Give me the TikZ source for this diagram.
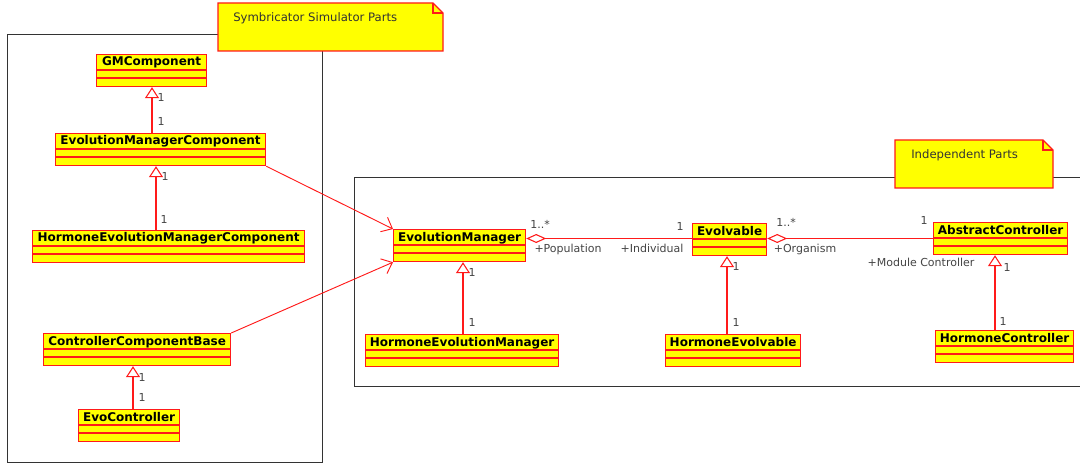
\documentclass[tikz,border=0pt]{standalone}
\usepackage{fontspec}
\setmainfont{DejaVu Sans}
\usetikzlibrary{arrows.meta,calc}
\definecolor{umlyellow}{HTML}{FFFF00}
\definecolor{umlred}{HTML}{FF1A1A}
\definecolor{lblgray}{HTML}{444444}
\definecolor{framegray}{HTML}{333333}
\tikzset{
  clsbox/.style={draw=umlred, fill=umlyellow, line width=0.9pt, inner sep=0pt, minimum height=24pt, anchor=north west},
  clsname/.style={font=\fontsize{9}{10}\selectfont\bfseries, inner sep=0pt, text=black, anchor=base},
  lbl/.style={font=\fontsize{8.25}{9}\selectfont, text=lblgray, inner sep=0pt},
  gen/.style={draw=umlred, line width=1pt, -{Triangle[open, length=8.25pt, width=10.5pt, line width=0.8pt]}},
  dep/.style={draw=umlred, line width=0.7pt, -{Straight Barb[length=7pt, width=12pt]}},
  assoc/.style={draw=umlred, line width=0.9pt, {Diamond[open, length=15pt, width=6.75pt, line width=0.8pt]}-},
  frame/.style={draw=framegray, line width=0.75pt},
  note/.style={draw=umlred, fill=umlyellow, line width=0.9pt},
  notetext/.style={font=\fontsize{8.75}{10}\selectfont, text=framegray, inner sep=0pt, anchor=west},
}
\newcommand\umlclass[5]{%
  \node[clsbox, minimum width=#4*0.75pt] (#1) at (#2,#3) {};
  \draw[umlred, line width=0.9pt] ([yshift=-12pt]#1.north west) -- ([yshift=-12pt]#1.north east)
    ([yshift=-18pt]#1.north west) -- ([yshift=-18pt]#1.north east);
  \node[clsname] (#1-name) at ([yshift=-9pt]#1.north) {#5};
}
\begin{document}
\begin{tikzpicture}[x=0.75pt, y=-0.75pt]
\useasboundingbox (0,0) rectangle (1080,463);
\clip (0,0) rectangle (1080,463);
\fill[white] (0,0) rectangle (1080,463);
% frames
\draw[frame] (7,35) rectangle (322,462);
\draw[frame] (354,178) rectangle (1090,386);
% notes
\path[note] (218,3) -- (433,3) -- (443,13) -- (443,51) -- (218,51) -- cycle;
\draw[umlred, line width=0.9pt] (433,3) -- (433,13) -- (443,13);
\node[notetext] (n1) at (233,18) {Symbricator Simulator Parts};
\path[note] (895,140) -- (1043,140) -- (1053,150) -- (1053,188) -- (895,188) -- cycle;
\draw[umlred, line width=0.9pt] (1043,140) -- (1043,150) -- (1053,150);
\node[notetext] (n2) at (911,155) {Independent Parts};
% classes
\umlclass{gm}{96}{54}{110}{GMComponent}
\umlclass{emc}{55}{133}{210}{EvolutionManagerComponent}
\umlclass{hemc}{32}{230}{272}{HormoneEvolutionManagerComponent}
\umlclass{ccb}{43}{333}{187}{ControllerComponentBase}
\umlclass{evoc}{78}{409}{101}{EvoController}
\umlclass{em}{393}{229}{132}{EvolutionManager}
\umlclass{hem}{365}{334}{193}{HormoneEvolutionManager}
\umlclass{ev}{692}{223}{74}{Evolvable}
\umlclass{hev}{665}{334}{135}{HormoneEvolvable}
\umlclass{ac}{933}{222}{134}{AbstractController}
\umlclass{hc}{935}{330}{138}{HormoneController}
% generalizations
\coordinate (g1) at (152,0);
\coordinate (g2) at (156,0);
\coordinate (g3) at (133,0);
\coordinate (g4) at (463,0);
\coordinate (g5) at (727,0);
\coordinate (g6) at (995,0);
\draw[gen] (emc.north -| g1) -- (gm.south -| g1);
\draw[gen] (hemc.north -| g2) -- (emc.south -| g2);
\draw[gen] (evoc.north -| g3) -- (ccb.south -| g3);
\draw[gen] (hem.north -| g4) -- (em.south -| g4);
\draw[gen] (hev.north -| g5) -- (ev.south -| g5);
\draw[gen] (hc.north -| g6) -- (ac.south -| g6);
\node[lbl] (l1) at (161,97) {1};
\node[lbl] (l2) at (161,121) {1};
\node[lbl] (l3) at (165,176) {1};
\node[lbl] (l4) at (164,219) {1};
\node[lbl] (l5) at (142,377) {1};
\node[lbl] (l6) at (142,397) {1};
\node[lbl] (l7) at (472,272) {1};
\node[lbl] (l8) at (472,322) {1};
\node[lbl] (l9) at (736,266) {1};
\node[lbl] (l10) at (736,322) {1};
\node[lbl] (l11) at (1007,267) {1};
\node[lbl] (l12) at (1003,321) {1};
% dependencies
\draw[dep] (emc.south east) -- (em.north west);
\draw[dep] (ccb.north east) -- (em.south west);
% associations
\coordinate (ay) at (0,238.5);
\draw[assoc] (ay -| em.east) -- (ay -| ev.west);
\draw[assoc] (ay -| ev.east) -- (ay -| ac.west);
\node[lbl] (a1) at (540,224) {1..*};
\node[lbl] (a2) at (568,249) {+Population};
\node[lbl] (a3) at (652,248) {+Individual};
\node[lbl] (a4) at (680,226) {1};
\node[lbl] (a5) at (786,222) {1..*};
\node[lbl] (a6) at (805,249) {+Organism};
\node[lbl] (a7) at (921,262) {+Module Controller};
\node[lbl] (a8) at (924,220) {1};
\end{tikzpicture}
\end{document}
